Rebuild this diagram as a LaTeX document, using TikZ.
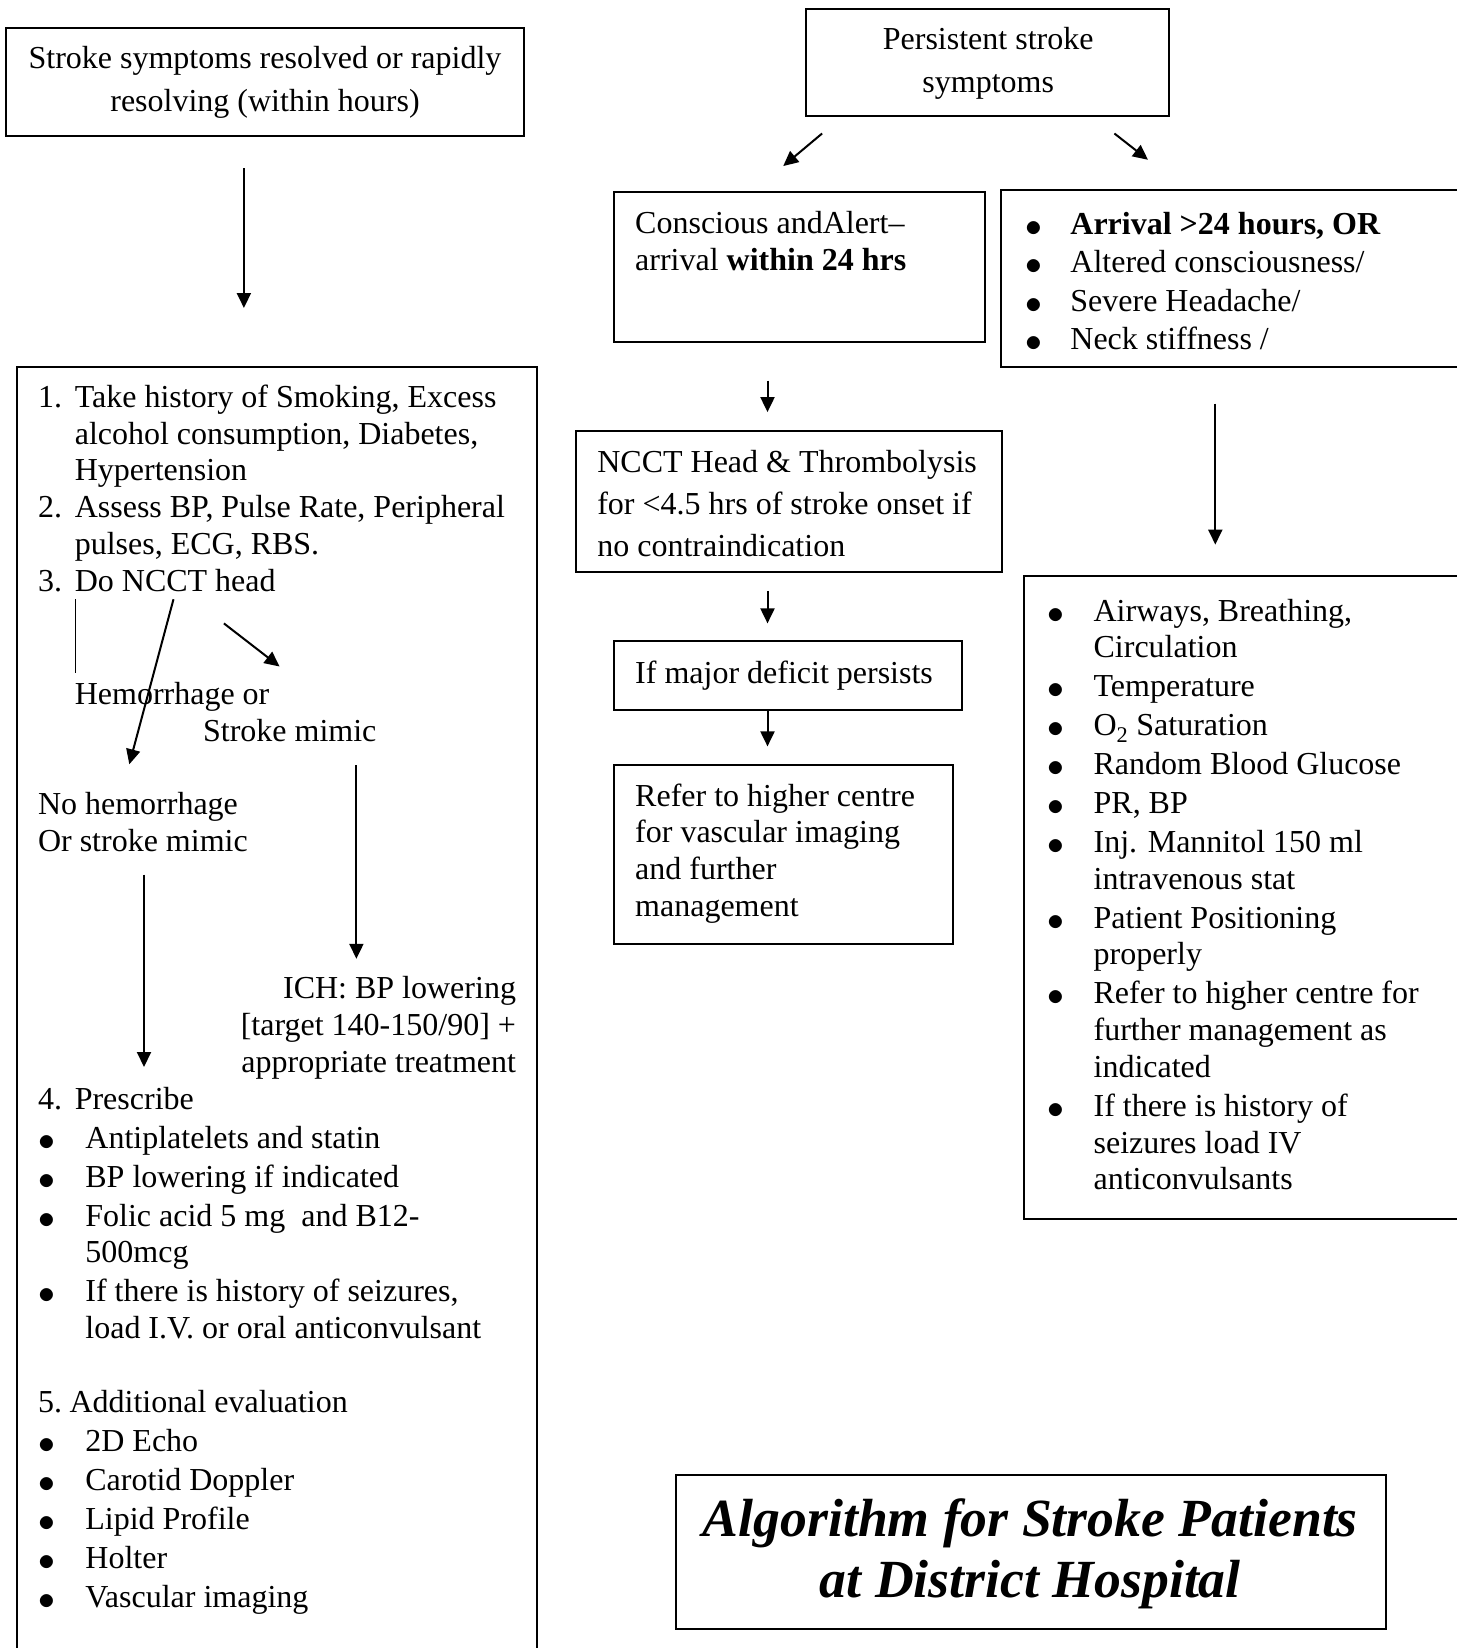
\documentclass[tikz,border=0pt]{standalone}
\usepackage{fontspec}
\setmainfont{Liberation Serif}
\usetikzlibrary{arrows.meta}
\newcommand\nlab[2][36.8pt]{\makebox[#1][l]{#2}}
\newcommand\blt[1][47.4pt]{\makebox[#1][l]{\hspace*{0.5pt}\raisebox{-2pt}{\scalebox{1.35}{$\bullet$}}}}
\begin{document}
\begin{tikzpicture}[x=1pt,y=-1pt,
  box/.style={draw, line width=2pt, inner sep=0pt, outer sep=0pt},
  txt/.style={inner sep=0pt, align=left, yshift=-3pt, font=\fontsize{32}{36.8}\selectfont},
  arr/.style={line width=2pt, -{Triangle[length=15pt,width=14pt]}},
]
\useasboundingbox (0,0) rectangle (1456,1648);

% ---------- left column ----------
\node[box, anchor=north west, minimum width=517.2pt, minimum height=107.2pt] (boxA) at (6.3,28.4) {};
\node[txt, align=center] (tA) at (265,79.4) {\strut Stroke symptoms resolved or rapidly\\[6.2pt]resolving (within hours)\strut};

\coordinate (a1s) at (243.9,168.2); \coordinate (a1e) at (243.9,308);
\draw[arr] (a1s) -- (a1e);

\draw[line width=2pt] (16.8,1670) -- (16.8,366.9) -- (537.2,366.9) -- (537.2,1670);

\node[txt, anchor=west] (t1) at (37.8,488.9) {\strut\nlab{1.}Take history of Smoking, Excess\\
\nlab{}alcohol consumption, Diabetes,\\
\nlab{}Hypertension\\
\nlab{2.}Assess BP, Pulse Rate, Peripheral\\
\nlab{}pulses, ECG, RBS.\\
\nlab{3.}Do NCCT head\strut};

\coordinate (v1) at (75.7,599.2); \coordinate (v2) at (75.7,672.8);
\draw[line width=1pt] (v1) -- (v2);
\coordinate (a2s) at (173.5,599.2); \coordinate (a2e) at (129.3,764.3);
\draw[arr] (a2s) -- (a2e);
\coordinate (a3s) at (223.9,623.4); \coordinate (a3e) at (279.6,666.5);
\draw[arr] (a3s) -- (a3e);

\node[txt, anchor=west] (tHem) at (74.6,693.9) {\strut Hemorrhage or};
\node[txt, anchor=west] (tMim) at (202.9,730.7) {\strut Stroke mimic};
\node[txt, anchor=west] (tNo) at (37.8,822.6) {\strut No hemorrhage\\Or stroke mimic\strut};

\coordinate (a4s) at (144,874.7); \coordinate (a4e) at (144,1067);
\draw[arr] (a4s) -- (a4e);
\coordinate (a5s) at (356.4,765.3); \coordinate (a5e) at (356.4,958.8);
\draw[arr] (a5s) -- (a5e);

\node[txt, align=right, anchor=east] (tICH) at (516.2,1025) {\strut ICH: BP lowering\\
{[}target 140-150/90] +\\
appropriate treatment\strut};

\node[txt, anchor=west] (t4) at (37.8,1213.7) {\strut\nlab{4.}Prescribe\\[2.1pt]
\blt Antiplatelets and statin\\[2.1pt]
\blt BP lowering if indicated\\[2.1pt]
\blt Folic acid 5 mg\ \ and B12-\\
\nlab[47.4pt]{}500mcg\\[2.1pt]
\blt If there is history of seizures,\\
\nlab[47.4pt]{}load I.V. or oral anticonvulsant\strut};

\node[txt, anchor=west] (t5) at (37.8,1499.7) {\strut\nlab[31.6pt]{5.}Additional evaluation\\[2.1pt]
\blt 2D Echo\\[2.1pt]
\blt Carotid Doppler\\[2.1pt]
\blt Lipid Profile\\[2.1pt]
\blt Holter\\[2.1pt]
\blt Vascular imaging\strut};

% ---------- right column ----------
\node[box, anchor=north west, minimum width=362.7pt, minimum height=106.1pt] (boxB) at (806.3,9.5) {};
\node[txt, align=center] (tB) at (988.2,60.5) {\strut Persistent stroke\\[6.2pt]symptoms\strut};

\coordinate (a6s) at (822.1,133.5); \coordinate (a6e) at (783.2,166.1);
\draw[arr] (a6s) -- (a6e);
\coordinate (a7s) at (1114.4,133.5); \coordinate (a7e) at (1148,159.8);
\draw[arr] (a7s) -- (a7e);

\node[box, anchor=north west, minimum width=371.1pt, minimum height=149.3pt] (boxC) at (614,192.4) {};
\node[txt, anchor=west] (tC) at (635,241.3) {\strut Conscious andAlert--\\arrival \textbf{within 24 hrs}\strut};

\draw[line width=2pt] (1470,190.3) -- (1000.8,190.3) -- (1000.8,366.9) -- (1470,366.9);
\node[txt, anchor=west] (tD) at (1025,281.7) {\strut\blt[45.2pt]\textbf{Arrival >24 hours, OR}\\[1.8pt]
\blt[45.2pt]Altered consciousness/\\[1.8pt]
\blt[45.2pt]Severe Headache/\\[1.8pt]
\blt[45.2pt]Neck stiffness /\strut};

\coordinate (a8s) at (767.5,380.6); \coordinate (a8e) at (767.5,412.1);
\draw[arr] (a8s) -- (a8e);

\node[box, anchor=north west, minimum width=425.8pt, minimum height=140.9pt] (boxE) at (576.1,431) {};
\node[txt, anchor=west] (tE) at (597.1,504.6) {\strut NCCT Head \& Thrombolysis\\[5.2pt]
for <4.5 hrs of stroke onset if\\[5.2pt]
no contraindication\strut};

\coordinate (a9s) at (767.5,590.8); \coordinate (a9e) at (767.5,623.4);
\draw[arr] (a9s) -- (a9e);

\node[box, anchor=north west, minimum width=347.9pt, minimum height=68.3pt] (boxF) at (614,641.3) {};
\node[txt, anchor=west] (tF) at (635,672.8) {\strut If major deficit persists};

\coordinate (a10s) at (767.5,710.7); \coordinate (a10e) at (767.5,746.4);
\draw[arr] (a10s) -- (a10e);

\node[box, anchor=north west, minimum width=338.5pt, minimum height=178.8pt] (boxG) at (614,765.3) {};
\node[txt, anchor=west] (tG) at (635,851) {\strut Refer to higher centre\\
for vascular imaging\\
and further\\
management\strut};

\coordinate (a11s) at (1215.3,403.7); \coordinate (a11e) at (1215.3,544.6);
\draw[arr] (a11s) -- (a11e);

\draw[line width=2pt] (1470,576.1) -- (1024,576.1) -- (1024,1218.5) -- (1470,1218.5);
\node[txt, anchor=west] (tH) at (1047,895.2) {\strut\blt[46.4pt]Airways, Breathing,\\
\nlab[46.4pt]{}Circulation\\[2.1pt]
\blt[46.4pt]Temperature\\[2.1pt]
\blt[46.4pt]O\textsubscript{2} Saturation\\[2.1pt]
\blt[46.4pt]Random Blood Glucose\\[2.1pt]
\blt[46.4pt]PR, BP\\[2.1pt]
\blt[46.4pt]Inj. Mannitol 150 ml\\
\nlab[46.4pt]{}intravenous stat\\[2.1pt]
\blt[46.4pt]Patient Positioning\\
\nlab[46.4pt]{}properly\\[2.1pt]
\blt[46.4pt]Refer to higher centre for\\
\nlab[46.4pt]{}further management as\\
\nlab[46.4pt]{}indicated\\[2.1pt]
\blt[46.4pt]If there is history of\\
\nlab[46.4pt]{}seizures load IV\\
\nlab[46.4pt]{}anticonvulsants\strut};

% ---------- title ----------
\node[box, anchor=north west, minimum width=709.6pt, minimum height=153.5pt] (boxT) at (676,1475) {};
\node[inner sep=0pt, align=center, yshift=-5pt, font=\fontsize{53.7}{61}\selectfont\bfseries\itshape] (tT) at (1030.3,1549.6) {\strut Algorithm for Stroke Patients\\at District Hospital\strut};
\end{tikzpicture}
\end{document}
